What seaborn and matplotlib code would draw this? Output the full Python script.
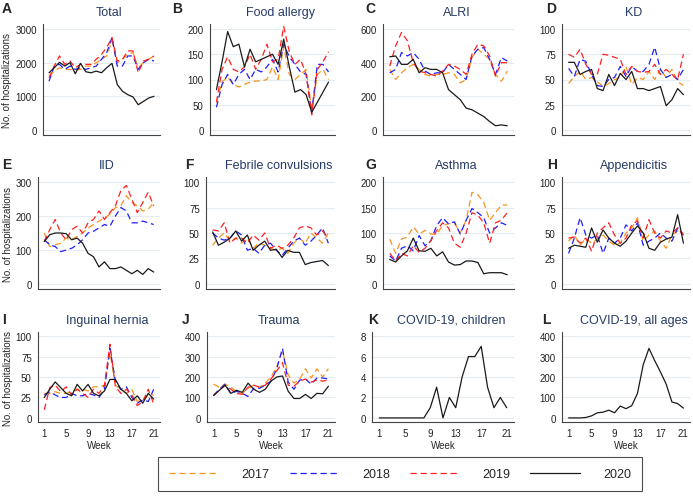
import pandas as pd
import matplotlib
matplotlib.use("Agg")
import matplotlib.pyplot as plt
from matplotlib.lines import Line2D
import seaborn as sns

# -----------------------------
# Data
# -----------------------------
weeks = list(range(1, 22))
years = ["2017", "2018", "2019", "2020"]

total = {
    "2017": [1600, 1750, 1850, 1800, 1800, 1780, 1800, 1900, 1900, 2000, 2100, 2200, 2650, 2000, 2100, 2250, 2300, 1850, 2000, 2100, 2200],
    "2018": [1450, 1900, 1950, 1800, 1900, 1800, 1850, 1800, 1850, 1900, 2100, 2300, 2750, 1900, 1900, 2200, 2200, 1800, 2000, 2100, 2050],
    "2019": [1550, 1900, 2200, 1950, 2050, 1850, 1950, 1950, 1950, 2100, 2250, 2450, 2750, 2050, 2100, 2350, 2350, 1700, 2050, 2100, 2200],
    "2020": [1700, 1850, 2010, 1900, 2000, 1670, 1980, 1730, 1700, 1750, 1700, 1850, 1980, 1350, 1150, 1050, 980, 750, 850, 950, 1000],
}
food_allergy = {
    "2017": [55, 95, 105, 90, 85, 90, 95, 97, 97, 100, 125, 100, 165, 110, 100, 110, 120, 40, 110, 120, 100],
    "2018": [45, 90, 110, 90, 110, 120, 100, 120, 115, 125, 140, 115, 170, 145, 130, 115, 110, 35, 130, 130, 115],
    "2019": [55, 120, 145, 120, 115, 125, 150, 120, 140, 170, 135, 140, 205, 155, 130, 140, 110, 30, 120, 135, 155],
    "2020": [80, 135, 195, 165, 170, 125, 160, 135, 140, 145, 150, 130, 180, 125, 75, 80, 70, 35, 55, 75, 95],
}
alri = {
    "2017": [360, 300, 340, 370, 390, 360, 330, 320, 330, 330, 340, 330, 280, 300, 430, 480, 450, 420, 330, 290, 350],
    "2018": [340, 360, 460, 440, 460, 420, 350, 330, 340, 340, 390, 360, 330, 300, 440, 480, 490, 420, 330, 430, 410],
    "2019": [380, 500, 580, 530, 400, 350, 340, 330, 320, 350, 390, 380, 360, 330, 450, 510, 500, 440, 320, 400, 400],
    "2020": [435, 440, 390, 390, 420, 340, 370, 360, 360, 340, 240, 210, 180, 130, 120, 100, 80, 50, 25, 30, 25],
}
kd = {
    "2017": [46, 53, 58, 50, 52, 48, 43, 46, 50, 52, 63, 45, 52, 50, 58, 50, 60, 52, 60, 48, 44],
    "2018": [61, 53, 70, 68, 55, 44, 43, 50, 52, 63, 53, 63, 58, 58, 65, 82, 60, 52, 55, 50, 60],
    "2019": [75, 72, 80, 65, 55, 55, 75, 74, 72, 70, 55, 63, 58, 57, 58, 65, 55, 60, 55, 50, 75],
    "2020": [67, 67, 55, 58, 60, 41, 39, 55, 44, 56, 50, 58, 41, 41, 39, 41, 43, 24, 30, 41, 35],
}
iid = {
    "2017": [150, 110, 115, 120, 135, 130, 140, 150, 165, 175, 185, 195, 205, 225, 230, 260, 240, 230, 215, 220, 240],
    "2018": [130, 115, 110, 95, 100, 105, 115, 130, 150, 155, 165, 175, 170, 200, 225, 215, 180, 180, 185, 180, 175],
    "2019": [125, 160, 190, 150, 130, 160, 170, 150, 180, 190, 215, 190, 210, 230, 275, 290, 250, 210, 240, 270, 230],
    "2020": [125, 145, 150, 150, 148, 130, 135, 120, 90, 80, 50, 65, 45, 45, 50, 40, 30, 40, 28, 45, 35],
}
febrile = {
    "2017": [38, 45, 50, 42, 45, 40, 45, 35, 40, 38, 35, 33, 35, 30, 40, 45, 40, 50, 45, 40, 50],
    "2018": [50, 45, 43, 45, 52, 48, 33, 35, 30, 38, 40, 33, 28, 35, 42, 45, 38, 42, 48, 55, 40],
    "2019": [53, 52, 60, 40, 45, 45, 40, 48, 43, 50, 35, 38, 35, 38, 45, 55, 57, 55, 48, 52, 45],
    "2020": [51, 38, 41, 45, 52, 42, 48, 33, 38, 42, 33, 34, 26, 33, 31, 31, 19, 21, 22, 23, 18],
}
asthma = {
    "2017": [88, 60, 88, 92, 112, 98, 105, 98, 98, 115, 118, 120, 100, 125, 180, 175, 160, 125, 140, 155, 155],
    "2018": [55, 45, 70, 75, 65, 95, 75, 85, 115, 130, 118, 122, 98, 125, 148, 140, 130, 100, 110, 120, 115],
    "2019": [60, 45, 60, 55, 75, 62, 70, 85, 105, 120, 110, 80, 72, 100, 140, 135, 120, 80, 120, 125, 140],
    "2020": [48, 43, 55, 65, 90, 65, 64, 70, 55, 63, 43, 37, 38, 45, 45, 42, 20, 22, 22, 22, 18],
}
appendicitis = {
    "2017": [42, 48, 38, 45, 40, 44, 48, 42, 38, 40, 50, 55, 65, 42, 48, 52, 42, 35, 48, 52, 50],
    "2018": [30, 45, 65, 48, 45, 48, 30, 45, 40, 45, 58, 52, 60, 38, 42, 45, 50, 45, 42, 55, 48],
    "2019": [45, 46, 40, 45, 32, 50, 55, 60, 48, 40, 45, 58, 62, 45, 63, 50, 45, 52, 50, 55, 48],
    "2020": [35, 38, 37, 36, 55, 41, 53, 45, 40, 37, 42, 50, 57, 50, 35, 33, 41, 44, 46, 68, 40],
}
hernia = {
    "2017": [30, 30, 32, 30, 30, 32, 35, 35, 33, 38, 38, 40, 80, 40, 35, 30, 35, 20, 22, 28, 28],
    "2018": [28, 32, 28, 25, 25, 30, 27, 27, 30, 28, 25, 35, 85, 45, 35, 38, 25, 18, 22, 20, 35],
    "2019": [10, 37, 40, 32, 38, 28, 35, 30, 25, 35, 30, 40, 90, 38, 30, 35, 28, 15, 20, 35, 17],
    "2020": [25, 35, 44, 37, 30, 27, 41, 33, 41, 30, 27, 33, 47, 47, 35, 30, 21, 27, 18, 30, 23],
}
trauma = {
    "2017": [165, 150, 165, 150, 130, 120, 145, 160, 150, 170, 200, 250, 330, 210, 170, 190, 240, 195, 240, 200, 240],
    "2018": [110, 140, 165, 120, 130, 120, 105, 145, 145, 160, 180, 240, 340, 175, 140, 185, 190, 165, 195, 195, 190],
    "2019": [110, 135, 160, 140, 120, 115, 150, 160, 150, 160, 190, 230, 270, 160, 155, 180, 190, 175, 185, 180, 185],
    "2020": [110, 135, 160, 120, 135, 125, 170, 140, 125, 140, 180, 200, 205, 130, 95, 95, 115, 95, 120, 118, 155],
}
covid_children = {
    "2020": [0, 0, 0, 0, 0, 0, 0, 0, 1, 3, 0, 2, 1, 4, 6, 6, 7, 3, 1, 2, 1],
}
covid_all = {
    "2020": [0, 0, 0, 2, 10, 25, 28, 38, 25, 58, 45, 60, 120, 260, 340, 280, 225, 165, 78, 70, 48],
}

year_colors = {"2017": "#f7941d", "2018": "#1f1fff", "2019": "#ff2020", "2020": "#1a1a1a"}
year_dashes = {"2017": (5, 3), "2018": (5, 3), "2019": (5, 3), "2020": ""}

# letter, title, data, y max, y step
panels = [
    ("A", "Total", total, 3000, 1000),
    ("B", "Food allergy", food_allergy, 200, 50),
    ("C", "ALRI", alri, 600, 200),
    ("D", "KD", kd, 100, 25),
    ("E", "IID", iid, 300, 100),
    ("F", "Febrile convulsions", febrile, 100, 25),
    ("G", "Asthma", asthma, 200, 50),
    ("H", "Appendicitis", appendicitis, 100, 25),
    ("I", "Inguinal hernia", hernia, 100, 25),
    ("J", "Trauma", trauma, 400, 100),
    ("K", "COVID-19, children", covid_children, 8, 2),
    ("L", "COVID-19, all ages", covid_all, 400, 100),
]

# -----------------------------
# Layout (pixel boxes)
# -----------------------------
W, H = 693, 502
lefts = [[43, 210, 383, 562], [38, 206, 383, 562], [38, 207, 372, 562]]
rights = [160, 335, 514, 690]
rows = [(25, 136), (178, 290), (333, 423)]
letter_x = [[2, 172, 365, 546], [2, 185, 365, 547], [2, 182, 368, 542]]
letter_y = [2, 158, 313]

sns.set_style("white")
plt.rcParams["font.family"] = ["Liberation Sans", "DejaVu Sans"]

fig = plt.figure(figsize=(W / 100, H / 100), dpi=100)
title_color = "#263b66"
grey = "#444444"

for i, (letter, title, series, ymax, ystep) in enumerate(panels):
    r, c = divmod(i, 4)
    left, right = lefts[r][c], rights[c]
    top, bottom = rows[r]
    ax = fig.add_axes([left / W, 1 - bottom / H, (right - left) / W, (bottom - top) / H])

    df = pd.DataFrame(
        [(y, w, v) for y, vals in series.items() for w, v in zip(weeks, vals)],
        columns=["Year", "Week", "n"],
    )
    sns.lineplot(
        data=df, x="Week", y="n", hue="Year", style="Year",
        palette={y: year_colors[y] for y in series},
        dashes={y: year_dashes[y] for y in series},
        linewidth=0.9, legend=False, ax=ax,
    )

    ax.set_xlim(-0.15, 22.15)
    ax.set_ylim(-0.05 * ymax, 1.05 * ymax)
    ax.set_xticks([1, 5, 9, 13, 17, 21])
    ax.set_yticks(list(range(0, ymax + 1, ystep)))
    ax.yaxis.grid(True, color="#e4ecf1", linewidth=0.8)
    ax.set_axisbelow(True)
    for s in ["top", "right"]:
        ax.spines[s].set_visible(False)
    for s in ["left", "bottom"]:
        ax.spines[s].set_color(grey)
        ax.spines[s].set_linewidth(0.8)
    ax.tick_params(axis="both", direction="out", length=3, width=0.7,
                   color=grey, labelsize=7, labelcolor="#222222", pad=1.5)
    if r < 2:
        ax.set_xticklabels([])
        ax.set_xlabel("")
    else:
        ax.set_xlabel("Week", fontsize=7, labelpad=1)
    if c == 0:
        ax.set_ylabel("No. of hospitalizations", fontsize=7, labelpad=2)
    else:
        ax.set_ylabel("")

    cx = (left + right) / 2 + 8
    fig.text(cx / W, 1 - (top - 12) / H, title, fontsize=9, color=title_color,
             ha="center", va="center")
    fig.text(letter_x[r][c] / W, 1 - letter_y[r] / H, letter, fontsize=10,
             fontweight="bold", ha="left", va="top")

# -----------------------------
# Legend
# -----------------------------
handles = [
    Line2D([], [], color=year_colors[y], linewidth=0.9,
           linestyle=(0, year_dashes[y]) if year_dashes[y] else "-")
    for y in years
]
leg = fig.legend(handles, years, loc="center", bbox_to_anchor=(400 / W, 1 - 475 / H),
                 ncol=4, fontsize=9, handlelength=4.0, columnspacing=1.6,
                 handletextpad=1.8, frameon=True, fancybox=False,
                 borderpad=0.9)
leg.get_frame().set_edgecolor("#222222")
leg.get_frame().set_linewidth(0.8)

fig.savefig("out.png", dpi=100)
